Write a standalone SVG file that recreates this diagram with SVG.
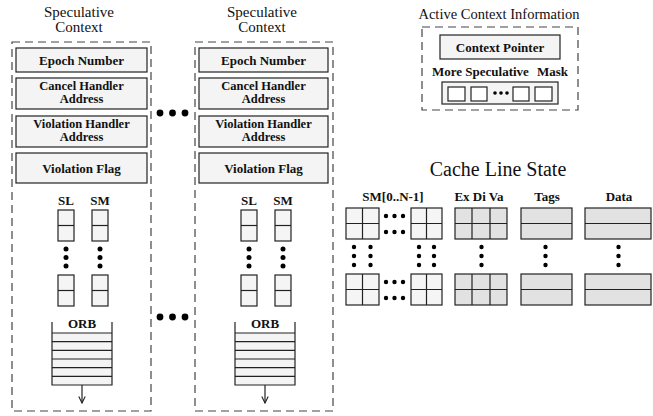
<svg xmlns="http://www.w3.org/2000/svg" width="653" height="416" viewBox="0 0 653 416" font-family="'Liberation Serif','Times New Roman',Times,serif">
<defs>
<style>
.title{font-family:"Liberation Serif","Times New Roman",Times,serif;font-size:15px;fill:#111;text-anchor:middle}
.big{font-family:"Liberation Serif","Times New Roman",Times,serif;font-size:20px;fill:#111;text-anchor:middle}
.lbl{font-family:"Liberation Serif","Times New Roman",Times,serif;font-size:13px;font-weight:bold;fill:#111;text-anchor:middle}
.lbl2{font-family:"Liberation Serif","Times New Roman",Times,serif;font-size:12.5px;font-weight:bold;fill:#111;text-anchor:middle}
.dash{fill:none;stroke:#444;stroke-width:1.2;stroke-dasharray:8,5}
.box{fill:#f4f4f4;stroke:#222;stroke-width:1.2}
.cell{fill:#f5f5f5;stroke:#222;stroke-width:1.2}
.gcell{fill:#e2e2e2;stroke:#222;stroke-width:1.2}
.wcell{fill:#fff;stroke:#222;stroke-width:1.2}
.ln{stroke:#222;stroke-width:1.2;fill:none}
.dot{fill:#000}
</style>
<marker id="arr" viewBox="0 0 10 10" refX="9" refY="5" markerWidth="8" markerHeight="8" orient="auto" markerUnits="userSpaceOnUse">
<path d="M1,1 L9,5 L1,9" fill="none" stroke="#222" stroke-width="1.4"/>
</marker>
</defs>
<rect width="653" height="416" fill="#fff"/>

<g id="ctx1">
<text class="title" x="79" y="17">Speculative</text>
<text class="title" x="79" y="32">Context</text>
<rect class="dash" x="12" y="42" width="139" height="369"/>
<rect class="box" x="16" y="48" width="131" height="24"/>
<text class="lbl" x="81.5" y="64.5">Epoch Number</text>
<rect class="box" x="16" y="78" width="131" height="31"/>
<text class="lbl2" x="81.5" y="89.5">Cancel Handler</text>
<text class="lbl2" x="81.5" y="102.5">Address</text>
<rect class="box" x="16" y="116" width="131" height="31"/>
<text class="lbl2" x="81.5" y="127.5">Violation Handler</text>
<text class="lbl2" x="81.5" y="140.5">Address</text>
<rect class="box" x="16" y="153" width="131" height="30"/>
<text class="lbl" x="81.5" y="172.5">Violation Flag</text>
<text class="lbl" x="66" y="205">SL</text>
<text class="lbl" x="100" y="205">SM</text>
<rect class="cell" x="58" y="210" width="16" height="31"/><line class="ln" x1="58" y1="225.5" x2="74" y2="225.5"/>
<rect class="cell" x="92" y="210" width="16" height="31"/><line class="ln" x1="92" y1="225.5" x2="108" y2="225.5"/>
<circle class="dot" cx="66" cy="249" r="2.5"/><circle class="dot" cx="66" cy="257.5" r="2.5"/><circle class="dot" cx="66" cy="266" r="2.5"/>
<circle class="dot" cx="100" cy="249" r="2.5"/><circle class="dot" cx="100" cy="257.5" r="2.5"/><circle class="dot" cx="100" cy="266" r="2.5"/>
<rect class="cell" x="58" y="275" width="16" height="31"/><line class="ln" x1="58" y1="290.5" x2="74" y2="290.5"/>
<rect class="cell" x="92" y="275" width="16" height="31"/><line class="ln" x1="92" y1="290.5" x2="108" y2="290.5"/>
<text class="lbl" x="82" y="328">ORB</text>
<rect x="52" y="333" width="60" height="52" fill="#f4f4f4"/>
<path class="ln" d="M52,322 V385 H112 V322"/>
<path class="ln" d="M52,333 H112 M52,341.7 H112 M52,350.3 H112 M52,359 H112 M52,367.7 H112 M52,376.3 H112"/>
</g>

<g id="ctx2" transform="translate(183,0)">
<text class="title" x="79" y="17">Speculative</text>
<text class="title" x="79" y="32">Context</text>
<rect class="dash" x="12" y="42" width="138" height="369"/>
<rect class="box" x="16" y="48" width="129" height="24"/>
<text class="lbl" x="80.5" y="64.5">Epoch Number</text>
<rect class="box" x="16" y="78" width="129" height="31"/>
<text class="lbl2" x="80.5" y="89.5">Cancel Handler</text>
<text class="lbl2" x="80.5" y="102.5">Address</text>
<rect class="box" x="16" y="116" width="129" height="31"/>
<text class="lbl2" x="80.5" y="127.5">Violation Handler</text>
<text class="lbl2" x="80.5" y="140.5">Address</text>
<rect class="box" x="16" y="153" width="129" height="30"/>
<text class="lbl" x="80.5" y="172.5">Violation Flag</text>
<text class="lbl" x="66" y="205">SL</text>
<text class="lbl" x="100" y="205">SM</text>
<rect class="cell" x="58" y="210" width="16" height="31"/><line class="ln" x1="58" y1="225.5" x2="74" y2="225.5"/>
<rect class="cell" x="92" y="210" width="16" height="31"/><line class="ln" x1="92" y1="225.5" x2="108" y2="225.5"/>
<circle class="dot" cx="66" cy="249" r="2.5"/><circle class="dot" cx="66" cy="257.5" r="2.5"/><circle class="dot" cx="66" cy="266" r="2.5"/>
<circle class="dot" cx="100" cy="249" r="2.5"/><circle class="dot" cx="100" cy="257.5" r="2.5"/><circle class="dot" cx="100" cy="266" r="2.5"/>
<rect class="cell" x="58" y="275" width="16" height="31"/><line class="ln" x1="58" y1="290.5" x2="74" y2="290.5"/>
<rect class="cell" x="92" y="275" width="16" height="31"/><line class="ln" x1="92" y1="290.5" x2="108" y2="290.5"/>
<text class="lbl" x="82" y="328">ORB</text>
<rect x="52" y="333" width="60" height="52" fill="#f4f4f4"/>
<path class="ln" d="M52,322 V385 H112 V322"/>
<path class="ln" d="M52,333 H112 M52,341.7 H112 M52,350.3 H112 M52,359 H112 M52,367.7 H112 M52,376.3 H112"/>
</g>

<g id="between-dots">
<circle class="dot" cx="160" cy="113" r="3.4"/><circle class="dot" cx="172.5" cy="113" r="3.4"/><circle class="dot" cx="185" cy="113" r="3.4"/>
<circle class="dot" cx="160" cy="317" r="3.4"/><circle class="dot" cx="172.5" cy="317" r="3.4"/><circle class="dot" cx="185" cy="317" r="3.4"/>
</g>

<g id="active-context">
<text class="title" x="499" y="19" style="font-size:14.5px">Active Context Information</text>
<rect class="dash" x="422" y="27" width="156" height="83"/>
<rect class="box" x="440" y="35" width="120" height="24"/>
<text class="lbl" x="500" y="51.5">Context Pointer</text>
<text class="lbl" x="432" y="75.5" style="text-anchor:start">More Speculative</text>
<text class="lbl" x="568" y="75.5" style="text-anchor:end">Mask</text>
<rect class="box" x="442" y="82" width="116" height="22"/>
<rect class="wcell" x="448" y="87" width="17" height="14"/>
<rect class="wcell" x="471" y="87" width="16" height="14"/>
<circle class="dot" cx="495" cy="93" r="1.8"/><circle class="dot" cx="501" cy="93" r="1.8"/><circle class="dot" cx="507" cy="93" r="1.8"/>
<rect class="wcell" x="513" y="87" width="16" height="14"/>
<rect class="wcell" x="535" y="87" width="17" height="14"/>
</g>

<g id="cache-line-state">
<text class="big" x="498" y="176">Cache Line State</text>
<text class="lbl" x="393" y="201">SM[0..N-1]</text>
<text class="lbl" x="479" y="201">Ex Di Va</text>
<text class="lbl" x="547" y="201">Tags</text>
<text class="lbl" x="619" y="201">Data</text>
<rect class="cell" x="346" y="208" width="33" height="31"/>
<path class="ln" d="M362.5,208 V239 M346,223.5 H379"/>
<rect class="cell" x="411" y="208" width="31" height="31"/>
<path class="ln" d="M426.5,208 V239 M411,223.5 H442"/>
<circle class="dot" cx="386" cy="216" r="2.2"/><circle class="dot" cx="394.5" cy="216" r="2.2"/><circle class="dot" cx="403" cy="216" r="2.2"/>
<circle class="dot" cx="386" cy="232" r="2.2"/><circle class="dot" cx="394.5" cy="232" r="2.2"/><circle class="dot" cx="403" cy="232" r="2.2"/>
<rect class="gcell" x="455" y="208" width="52" height="31"/>
<path class="ln" d="M472,208 V239 M490,208 V239 M455,223.5 H507"/>
<rect class="gcell" x="521" y="208" width="51" height="31"/>
<path class="ln" d="M521,223.5 H572"/>
<rect class="gcell" x="585" y="208" width="66" height="31"/>
<path class="ln" d="M585,223.5 H651"/>
<g>
<circle class="dot" cx="354" cy="247" r="2.2"/><circle class="dot" cx="354" cy="256" r="2.2"/><circle class="dot" cx="354" cy="265" r="2.2"/>
<circle class="dot" cx="370.5" cy="247" r="2.2"/><circle class="dot" cx="370.5" cy="256" r="2.2"/><circle class="dot" cx="370.5" cy="265" r="2.2"/>
<circle class="dot" cx="419" cy="247" r="2.2"/><circle class="dot" cx="419" cy="256" r="2.2"/><circle class="dot" cx="419" cy="265" r="2.2"/>
<circle class="dot" cx="434" cy="247" r="2.2"/><circle class="dot" cx="434" cy="256" r="2.2"/><circle class="dot" cx="434" cy="265" r="2.2"/>
<circle class="dot" cx="481.5" cy="247" r="2.2"/><circle class="dot" cx="481.5" cy="256" r="2.2"/><circle class="dot" cx="481.5" cy="265" r="2.2"/>
<circle class="dot" cx="545.5" cy="247" r="2.2"/><circle class="dot" cx="545.5" cy="256" r="2.2"/><circle class="dot" cx="545.5" cy="265" r="2.2"/>
<circle class="dot" cx="618.5" cy="247" r="2.2"/><circle class="dot" cx="618.5" cy="256" r="2.2"/><circle class="dot" cx="618.5" cy="265" r="2.2"/>
</g>
<rect class="cell" x="346" y="274" width="33" height="31"/>
<path class="ln" d="M362.5,274 V305 M346,289.5 H379"/>
<rect class="cell" x="411" y="274" width="31" height="31"/>
<path class="ln" d="M426.5,274 V305 M411,289.5 H442"/>
<circle class="dot" cx="386" cy="282" r="2.2"/><circle class="dot" cx="394.5" cy="282" r="2.2"/><circle class="dot" cx="403" cy="282" r="2.2"/>
<circle class="dot" cx="386" cy="298" r="2.2"/><circle class="dot" cx="394.5" cy="298" r="2.2"/><circle class="dot" cx="403" cy="298" r="2.2"/>
<rect class="gcell" x="455" y="274" width="52" height="31"/>
<path class="ln" d="M472,274 V305 M490,274 V305 M455,289.5 H507"/>
<rect class="gcell" x="521" y="274" width="51" height="31"/>
<path class="ln" d="M521,289.5 H572"/>
<rect class="gcell" x="585" y="274" width="66" height="31"/>
<path class="ln" d="M585,289.5 H651"/>
</g>

<g id="connectors">
<line class="ln" x1="82" y1="385" x2="82" y2="403" marker-end="url(#arr)"/>
<line class="ln" x1="265" y1="385" x2="265" y2="403" marker-end="url(#arr)"/>
</g>
</svg>
